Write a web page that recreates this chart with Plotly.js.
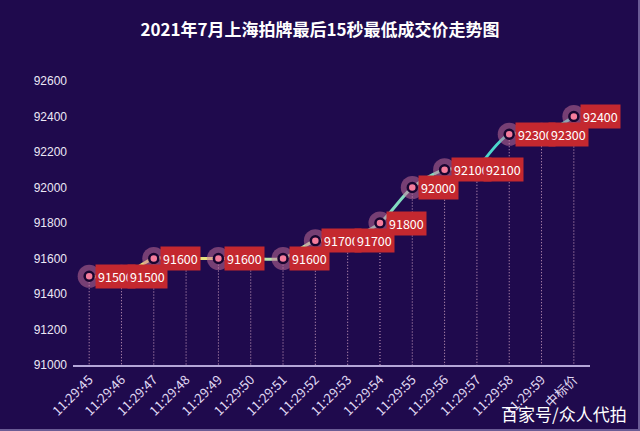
<!DOCTYPE html>
<html>
<head>
<meta charset="utf-8">
<script src="https://cdn.plot.ly/plotly-3.0.1.min.js"></script>
<style>
html,body{margin:0;padding:0;background:#1f0a4d;}
#wrap{position:relative;width:640px;height:431px;}
#chart{width:640px;height:431px;}
#frame{position:absolute;left:0;top:0;width:638px;height:429px;border-right:2px solid rgba(170,160,210,0.55);border-bottom:2px solid rgba(170,160,210,0.55);pointer-events:none;}
</style>
</head>
<body>
<div id="wrap"><div id="chart"></div><div id="frame"></div></div>
<script>
// ---- data ----
const categories = ["11:29:45","11:29:46","11:29:47","11:29:48","11:29:49","11:29:50","11:29:51","11:29:52","11:29:53","11:29:54","11:29:55","11:29:56","11:29:57","11:29:58","11:29:59","中标价"];
const prices = [91500,91500,91600,91600,91600,91600,91600,91700,91700,91800,92000,92100,92100,92300,92300,92400];
const yTicks = [91000,91200,91400,91600,91800,92000,92200,92400,92600];
const titleText = "2021年7月上海拍牌最后15秒最低成交价走势图";
const watermark = "百家号/众人代拍";

// ---- styles ----
const bg = "#1f0a4d";
const baseY = 91000;
const chunkBreaks = [[0,4],[4,8],[8,12],[12,15]];
const chunkColors = ["#e6e27e","#b6e6aa","#82dcc0","#4cd6cc"];

const traces = [];

// dotted drop lines
const dx = [], dy = [];
categories.forEach((c,i)=>{ dx.push(c,c,null); dy.push(prices[i],baseY,null); });
traces.push({x:dx,y:dy,mode:"lines",type:"scatter",hoverinfo:"skip",
  line:{color:"rgba(240,190,215,0.85)",width:1,dash:"1px,2px"},showlegend:false});

// smooth line in gradient-like chunks
chunkBreaks.forEach((b,k)=>{
  traces.push({x:categories.slice(b[0],b[1]+1),y:prices.slice(b[0],b[1]+1),type:"scatter",mode:"lines",
    line:{color:chunkColors[k],width:3,shape:"spline",smoothing:0.8},hoverinfo:"skip",showlegend:false});
});

// halo markers
traces.push({x:categories,y:prices,type:"scatter",mode:"markers",hoverinfo:"skip",showlegend:false,
  marker:{size:23,color:"rgba(205,115,155,0.5)"}});
// core markers
traces.push({x:categories,y:prices,type:"scatter",mode:"markers",showlegend:false,
  marker:{size:9,color:"#f47c9c",line:{color:"#180530",width:2.5}}});

// labels (ECharts-style overlap hiding inside flat runs)
const annotations = [];
let prevShown = false;
categories.forEach((c,i)=>{
  const flatRun = i>0 && i<prices.length-1 && prices[i-1]===prices[i] && prices[i+1]===prices[i];
  const show = !(flatRun && prevShown);
  prevShown = show;
  if(!show) return;
  annotations.push({x:c,y:prices[i],xref:"x",yref:"y",text:String(prices[i]),showarrow:false,
    xanchor:"left",yanchor:"middle",xshift:6,
    bgcolor:"#c4282f",borderpad:2,
    font:{color:"#ffffff",size:12.5,family:"Noto Sans CJK SC, Noto Sans, sans-serif"}});
});
annotations.push({xref:"paper",yref:"paper",x:1.0,y:-0.17,xanchor:"right",yanchor:"middle",
  text:watermark,showarrow:false,xshift:39,
  font:{color:"#ffffff",size:17,family:"Noto Sans CJK SC, sans-serif"}});

const layout = {
  width:640,height:431,
  paper_bgcolor:bg,plot_bgcolor:bg,
  margin:{l:73,r:50,t:81,b:66},
  title:{text:"<b>"+titleText+"</b>",x:0.5,xanchor:"center",y:0.93,yanchor:"middle",
    font:{color:"#ffffff",size:17,family:"Noto Sans CJK SC, sans-serif"}},
  xaxis:{type:"category",range:[-0.5,categories.length-0.5],showgrid:false,zeroline:false,
    showline:true,linecolor:"#b4a6d8",linewidth:2,ticks:"",tickangle:-45,
    tickfont:{color:"#e0daf4",size:13,family:"Noto Sans CJK SC, sans-serif"},fixedrange:true},
  yaxis:{range:[91000,92600],tickvals:yTicks,ticktext:yTicks.map(String),showgrid:false,zeroline:false,
    showline:false,ticks:"",ticklabelstandoff:5,
    tickfont:{color:"#ece8f6",size:12,family:"Liberation Sans, Arial, sans-serif"},fixedrange:true},
  annotations:annotations,
  showlegend:false
};

Plotly.newPlot("chart",traces,layout,{displayModeBar:false,staticPlot:true});
</script>
</body>
</html>
